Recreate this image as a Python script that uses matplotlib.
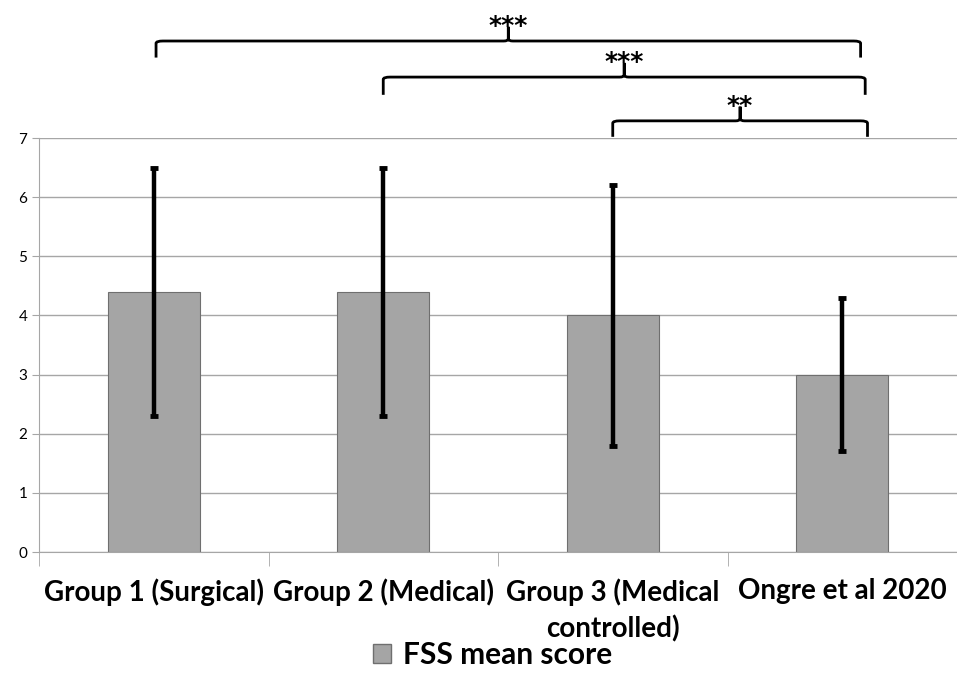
import numpy as np
import matplotlib
matplotlib.use("Agg")
import matplotlib.pyplot as plt
from matplotlib.path import Path
from matplotlib.patches import PathPatch, Patch

# data
groups = ["Group 1 (Surgical)", "Group 2 (Medical)", "Group 3 (Medical\ncontrolled)", "Ongre et al 2020"]
fss_mean = [4.4, 4.4, 4.0, 3.0]
fss_err = [2.1, 2.1, 2.2, 1.3]
# comparisons: (from index, to index, label)
comparisons = [(0, 3, "***"), (1, 3, "***"), (2, 3, "**")]

plt.rcParams['font.family'] = ['Lato', 'DejaVu Sans']

fig = plt.figure(figsize=(9.57, 6.95), dpi=100)
ax = fig.add_axes([39 / 957, 1 - 552 / 695, 918 / 957, 414 / 695])

x = np.arange(len(groups))
ax.bar(x, fss_mean, width=0.4, color='#a5a5a5', edgecolor='#6f6f6f', linewidth=0.8, zorder=2)
ax.errorbar(x, fss_mean, yerr=fss_err, fmt='none', ecolor='black', elinewidth=3.2,
            capsize=3, capthick=3.5, zorder=3)

ax.set_xlim(-0.5, 3.5)
ax.set_ylim(0, 7)
ax.set_yticks(range(8))
ax.yaxis.grid(True, color='#a6a6a6', linewidth=1.0, zorder=0)
ax.set_axisbelow(True)
for s in ['top', 'right']:
    ax.spines[s].set_visible(False)
ax.spines['left'].set_color('#a6a6a6')
ax.spines['bottom'].set_color('#a6a6a6')
ax.tick_params(axis='y', colors='#a6a6a6', length=5, labelcolor='black', labelsize=11)
ax.set_xticks(x)
ax.set_xticklabels(groups, fontsize=20, fontweight='bold', linespacing=1.4)
ax.tick_params(axis='x', length=0, pad=19)
ax.set_xticks(np.arange(-0.5, 4, 1.0), minor=True)
ax.tick_params(axis='x', which='minor', length=10, color='#a6a6a6')

# brackets above the plot
levels = [8.64, 8.03, 7.29]
drops = [0.28, 0.30, 0.27]
offsets = [(0.01, 0.08), (0.0, 0.1), (0.0, 0.11)]
for (i, j, lab), yl, d, (ol, orr) in zip(comparisons, levels, drops, offsets):
    x0, x1 = i + ol, j + orr
    xm = (x0 + x1) / 2
    r = 0.03
    verts = [(x0, yl - d), (x0, yl - 0.04), (x0, yl), (x0 + r, yl),
             (xm - 0.02, yl), (xm, yl), (xm, yl + 0.04), (xm, yl + 0.24),
             (xm, yl + 0.04), (xm, yl), (xm + 0.02, yl),
             (x1 - r, yl), (x1, yl), (x1, yl - 0.04), (x1, yl - d)]
    codes = [Path.MOVETO, Path.LINETO, Path.CURVE3, Path.CURVE3,
             Path.LINETO, Path.CURVE3, Path.CURVE3, Path.LINETO,
             Path.LINETO, Path.CURVE3, Path.CURVE3,
             Path.LINETO, Path.CURVE3, Path.CURVE3, Path.LINETO]
    ax.add_patch(PathPatch(Path(verts, codes), facecolor='none', edgecolor='black',
                           linewidth=2, clip_on=False))
    ax.text(xm, yl + 0.13, lab, ha='center', va='baseline', fontsize=18,
            fontweight='bold', family='DejaVu Sans', clip_on=False)

handles = [Patch(facecolor='#a5a5a5', edgecolor='#6f6f6f', label='FSS mean score')]
fig.legend(handles=handles, loc='center', bbox_to_anchor=(0.515, 1 - 655 / 695),
           frameon=False, prop={'size': 21.5, 'weight': 'bold'},
           handlelength=0.6, handleheight=0.6, handletextpad=0.4)

fig.savefig("out.png", dpi=100)
